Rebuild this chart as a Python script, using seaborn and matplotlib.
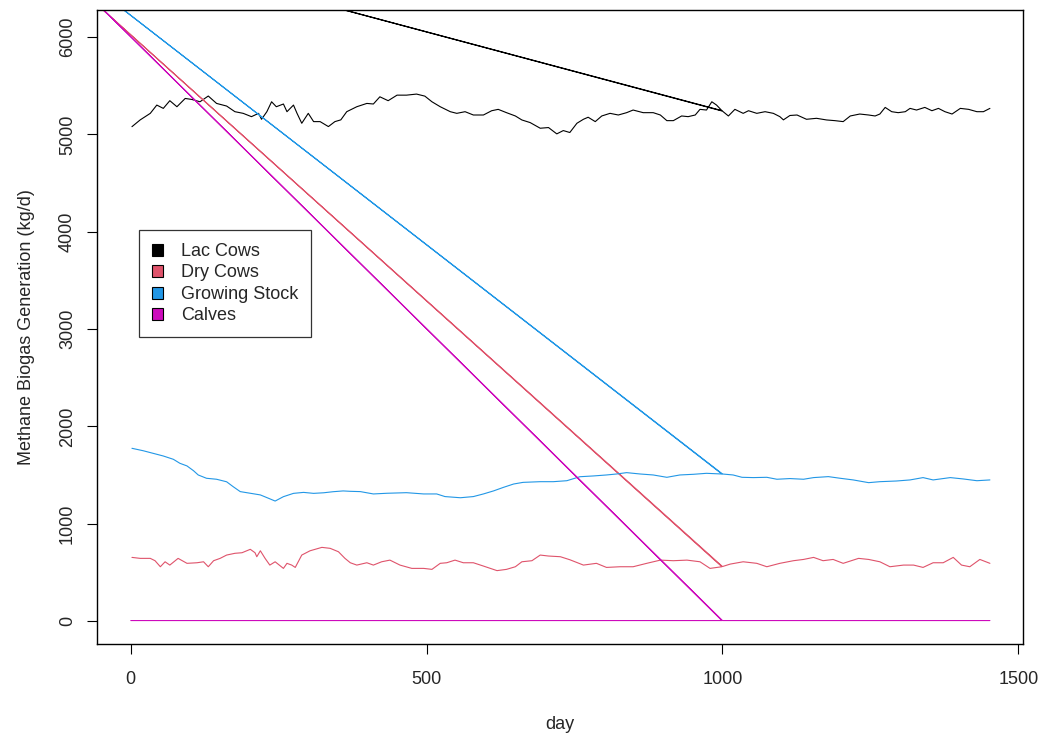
import pandas as pd
import matplotlib
matplotlib.use("Agg")
import matplotlib.pyplot as plt
from matplotlib.patches import Patch
import seaborn as sns

# values
lac_day = [2, 16, 33, 44, 55, 66, 78, 92, 103, 117, 131, 145, 162, 176, 190, 204, 216, 221, 230, 238,
           246, 258, 264, 275, 281, 289, 300, 309, 320, 334, 345, 355, 365, 382, 399, 410, 421, 435, 450, 466,
           483, 497, 509, 523, 540, 551, 565, 579, 596, 610, 621, 635, 650, 661, 675, 692, 706, 720, 731, 742,
           754, 765, 773, 785, 796, 810, 824, 838, 849, 866, 883, 895, 906, 917, 931, 942, 954, 962, 973, 982,
           990, 999, 1000, 1010, 1021, 1035, 1044, 1058, 1072, 1086, 1097, 1103, 1114, 1126, 1142, 1159, 1176,
           1190, 1204, 1216, 1232, 1247, 1258, 1266, 1275, 1286, 1297, 1309, 1317, 1328, 1342, 1354, 1365,
           1376, 1388, 1402, 1416, 1430, 1441, 1452]
lac_val = [5080, 5150, 5217, 5302, 5268, 5347, 5285, 5370, 5360, 5336, 5395, 5319, 5292, 5234, 5217, 5183,
           5217, 5156, 5234, 5336, 5285, 5313, 5234, 5302, 5217, 5115, 5217, 5132, 5132, 5081, 5132, 5150,
           5234, 5285, 5319, 5313, 5387, 5347, 5404, 5404, 5415, 5394, 5336, 5285, 5234, 5217, 5234, 5200,
           5200, 5244, 5258, 5224, 5190, 5149, 5122, 5064, 5071, 5006, 5040, 5020, 5115, 5156, 5177, 5132,
           5190, 5217, 5200, 5224, 5251, 5224, 5224, 5200, 5142, 5142, 5190, 5183, 5200, 5258, 5251, 5336,
           5302, 5245, 5240, 5190, 5258, 5217, 5244, 5217, 5234, 5217, 5183, 5150, 5195, 5200, 5156, 5166,
           5149, 5142, 5132, 5190, 5210, 5200, 5190, 5210, 5278, 5234, 5224, 5234, 5268, 5251, 5278, 5244,
           5268, 5234, 5210, 5268, 5258, 5234, 5234, 5268]

dry_day = [2, 16, 33, 41, 50, 58, 66, 80, 95, 112, 123, 131, 140, 151, 162, 176, 188, 202, 210, 213, 219,
           227, 235, 244, 258, 264, 272, 278, 289, 303, 323, 337, 351, 362, 371, 382, 399, 410, 424, 438, 455,
           475, 495, 509, 523, 534, 548, 562, 579, 596, 619, 635, 650, 661, 678, 692, 706, 726, 742, 765, 787,
           804, 827, 849, 872, 895, 917, 940, 962, 979, 999, 1000, 1013, 1035, 1058, 1075, 1097, 1120, 1137,
           1154, 1170, 1187, 1204, 1230, 1247, 1266, 1283, 1306, 1323, 1339, 1356, 1373, 1390, 1404, 1418,
           1435, 1452]
dry_val = [654, 644, 644, 620, 558, 609, 575, 644, 593, 599, 609, 558, 620, 644, 678, 696, 702, 737, 702,
           661, 722, 644, 575, 609, 541, 593, 575, 551, 678, 722, 757, 747, 712, 644, 599, 575, 599, 575, 609,
           626, 575, 541, 541, 531, 593, 599, 626, 599, 599, 565, 518, 531, 558, 609, 620, 678, 668, 661, 630,
           575, 593, 551, 558, 558, 593, 626, 620, 626, 609, 541, 558, 560, 585, 609, 593, 558, 593, 620, 633,
           654, 620, 633, 593, 644, 633, 609, 558, 575, 575, 551, 599, 599, 654, 575, 558, 633, 593]

grow_day = [2, 21, 38, 55, 72, 83, 95, 106, 114, 128, 145, 162, 173, 185, 202, 219, 233, 244, 258, 275,
            292, 309, 326, 342, 359, 371, 388, 410, 433, 466, 495, 517, 531, 557, 579, 596, 613, 630, 647,
            663, 692, 714, 737, 759, 782, 804, 821, 838, 861, 883, 906, 928, 951, 973, 999, 1000, 1018, 1033,
            1052, 1075, 1092, 1114, 1137, 1154, 1179, 1199, 1221, 1247, 1266, 1294, 1317, 1339, 1356, 1385,
            1407, 1430, 1452]
grow_val = [1775, 1750, 1723, 1696, 1662, 1621, 1594, 1545, 1501, 1467, 1457, 1431, 1381, 1330, 1313, 1296,
            1261, 1233, 1278, 1312, 1322, 1312, 1318, 1329, 1337, 1333, 1330, 1306, 1313, 1319, 1306, 1306,
            1279, 1267, 1279, 1306, 1337, 1374, 1408, 1425, 1432, 1432, 1442, 1483, 1491, 1501, 1511, 1525,
            1511, 1501, 1477, 1501, 1508, 1518, 1511, 1511, 1501, 1477, 1474, 1477, 1457, 1464, 1457, 1474,
            1484, 1467, 1450, 1422, 1432, 1439, 1450, 1474, 1450, 1474, 1460, 1442, 1450]

calf_day = [0, 999, 1000, 1452]
calf_val = [5, 5, 5, 5]

# stray point that every series jumps to around day 1000
wrap_day = [-206, -206, -206, -206]
wrap_val = [7200, 7150, 7195, 7240]

groups = ["Lac Cows", "Dry Cows", "Growing Stock", "Calves"]
colors = ["black", "#DF536B", "#2297E6", "#CD0BBC"]

rows = []
series = [(lac_day, lac_val), (dry_day, dry_val), (grow_day, grow_val), (calf_day, calf_val)]
for i, (days, vals) in enumerate(series):
    d = list(days)
    v = list(vals)
    k = next(j for j, x in enumerate(d) if x >= 1000)
    d.insert(k, wrap_day[i])
    v.insert(k, wrap_val[i])
    rows.append(pd.DataFrame({"day": d, "value": v, "group": groups[i]}))
df = pd.concat(rows, ignore_index=True)

sns.set_style("white")
plt.rcParams['font.family'] = ['Liberation Sans', 'DejaVu Sans']

fig = plt.figure(figsize=(10.38, 7.35), dpi=100)
ax = fig.add_axes([0.0932, 0.1238, 0.8924, 0.8626])

sns.lineplot(data=df, x="day", y="value", hue="group", hue_order=groups,
             palette=dict(zip(groups, colors)), sort=False, estimator=None,
             linewidth=0.8, legend=False, ax=ax)

ax.set_xlim(-57.5, 1508)
ax.set_ylim(-236, 6279)
ax.set_xticks([0, 500, 1000, 1500])
ax.set_yticks([0, 1000, 2000, 3000, 4000, 5000, 6000])
ax.set_xlabel("day", fontsize=13, labelpad=20)
ax.set_ylabel("Methane Biogas Generation (kg/d)", fontsize=13, labelpad=17)

ax.tick_params(axis="both", direction="out", length=7.5, width=0.8, labelsize=13,
               color="black", bottom=True, left=True)
ax.tick_params(axis="x", pad=12)
ax.tick_params(axis="y", pad=7.5, labelrotation=90)
for lab in ax.get_yticklabels():
    lab.set_va("center")

for sp in ax.spines.values():
    sp.set_color("black")
    sp.set_linewidth(1.0)

handles = [Patch(facecolor=c, edgecolor="black", linewidth=0.8) for c in colors]
leg = ax.legend(handles, groups, loc="upper left", bbox_to_anchor=(0.0455, 0.6525),
                borderaxespad=0, fontsize=13, frameon=True, fancybox=False,
                handlelength=0.65, handleheight=0.65, handletextpad=1.0,
                labelspacing=0.25, borderpad=0.7)
leg.get_frame().set_edgecolor("black")
leg.get_frame().set_linewidth(0.9)

fig.savefig("out.png", dpi=100)
